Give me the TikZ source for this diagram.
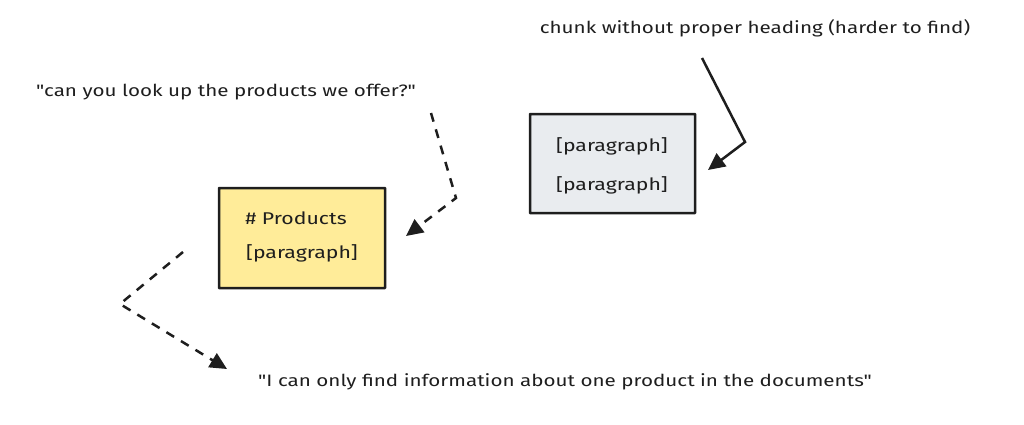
\documentclass[tikz,border=0pt]{standalone}
\usepackage{fontspec}
\setmainfont{Fira Sans}
\newfontfamily\hand[FakeStretch=1.25]{Fira Sans}
\usetikzlibrary{arrows.meta}
\definecolor{boxyellow}{HTML}{FFEC99}
\definecolor{boxgray}{HTML}{E9ECEF}
\definecolor{ink}{HTML}{1E1E1E}
\newcommand{\dq}{\symbol{34}}
\tikzset{
  every picture/.style={x=1pt,y=-1pt},
  chunk/.style={draw=ink, line width=2.5pt, rounded corners=0.5pt},
  lbl/.style={font=\hand\fontsize{16.5}{19}\selectfont, text=ink, inner sep=0pt},
  boxtxt/.style={font=\hand\fontsize{17}{20}\selectfont, text=ink, inner sep=0pt},
  conn/.style={draw=ink, line width=2.5pt, -{Triangle[length=17pt,width=16pt]}},
  dconn/.style={conn, dash pattern=on 9pt off 8pt}
}
\begin{document}
\begin{tikzpicture}
\useasboundingbox (0,0) rectangle (1024,424);
% boxes
\path[chunk, fill=boxyellow] (219,188) rectangle (385,288);
\path[chunk, fill=boxgray] (530,114) rectangle (695,213);
\node[boxtxt] (p1) at (296,218) {\# Products};
\node[boxtxt] (p2) at (302,253) {[paragraph]};
\node[boxtxt] (g1) at (612,146) {[paragraph]};
\node[boxtxt] (g2) at (612,185) {[paragraph]};
% labels
\node[lbl] (top) at (755,28) {chunk without proper heading (harder to find)};
\node[lbl] (q) at (226,92) {\dq can you look up the products we offer?\dq};
\node[lbl] (a) at (565,382) {\dq I can only find information about one product in the documents\dq};
% connectors
\coordinate (s1) at (702,58);
\coordinate (b1) at (745,142);
\coordinate (e1) at (708,170);
\draw[conn] (s1) -- (b1) -- (e1);
\coordinate (s2) at (431,113);
\coordinate (b2) at (456,198);
\coordinate (e2) at (406,236);
\draw[dconn] (s2) -- (b2) -- (e2);
\coordinate (s3) at (183,252);
\coordinate (b3) at (120,304);
\coordinate (e3) at (227,369);
\draw[dconn] (s3) -- (b3) -- (e3);
\end{tikzpicture}
\end{document}
